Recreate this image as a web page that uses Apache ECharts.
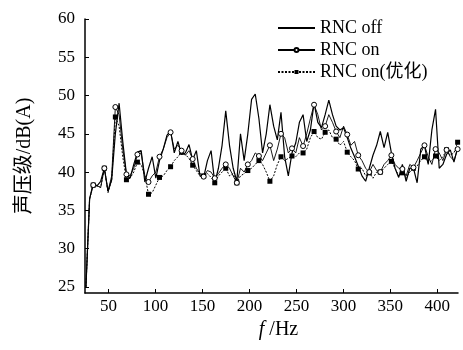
<!DOCTYPE html>
<html>
<head>
<meta charset="utf-8">
<script src="https://cdn.jsdelivr.net/npm/echarts@6/dist/echarts.min.js"></script>
<style>
html, body { margin: 0; padding: 0; background: #fff; }
#chart { width: 463px; height: 350px; }
</style>
</head>
<body>
<div id="chart"></div>
<script>
// frequency grid (Hz)
var freq = [
  26.0, 29.9, 33.8, 37.8, 41.7, 45.6, 49.5, 53.4, 57.3, 61.3,
  65.2, 69.1, 73.0, 76.9, 80.8, 84.8, 88.7, 92.6, 96.5, 100.4,
  104.3, 108.3, 112.2, 116.1, 120.0, 123.9, 127.8, 131.8, 135.7, 139.6,
  143.5, 147.4, 151.3, 155.3, 159.2, 163.1, 167.0, 170.9, 174.8, 178.8,
  182.7, 186.6, 190.5, 194.4, 198.3, 202.3, 206.2, 210.1, 214.0, 217.9,
  221.8, 225.8, 229.7, 233.6, 237.5, 241.4, 245.3, 249.3, 253.2, 257.1,
  261.0, 264.9, 268.8, 272.8, 276.7, 280.6, 284.5, 288.4, 292.3, 296.3,
  300.2, 304.1, 308.0, 311.9, 315.8, 319.8, 323.7, 327.6, 331.5, 335.4,
  339.3, 343.3, 347.2, 351.1, 355.0, 358.9, 362.8, 366.8, 370.7, 374.6,
  378.5, 382.4, 386.3, 390.3, 394.2, 398.1, 402.0, 405.9, 409.8, 413.8,
  417.7, 421.6
];

var rncOff = [
  25, 36.5, 38.6, 38.2, 38.8, 40.5, 37.5, 39, 45, 49,
  44, 39.7, 39.2, 41, 42.6, 42.8, 38.7, 40.5, 42, 39.2,
  41.5, 43, 44.8, 45.4, 42.5, 44, 42.3, 42.5, 43.6, 41.6,
  42.8, 39.5, 39.3, 41.5, 42.8, 38.6, 40.5, 43.5, 48, 43.5,
  40.5, 38.8, 45, 41.5, 45, 49.5, 50.2, 47, 42.5, 45,
  48.8, 46, 44.2, 47.8, 42, 39.5, 42.5, 43.8, 46.5, 47.5,
  44, 45.5, 49, 46.5, 45.8, 47.5, 49.4, 47.5, 46, 45.5,
  45.8, 44.5, 43.1, 42, 40.8, 39.5, 38.8, 40.5, 42.2, 43.5,
  45.3, 43.2, 45.2, 42.5, 40.5, 39.3, 41, 38.8, 40.5, 40.5,
  38.6, 43, 43.5, 41, 45.5, 48.2, 40.5, 41, 42.3, 42.9,
  41.3, 43.2
];

var rncOn = [
  25, 36.5, 38.3, 38.2, 38, 40.5, 37.5, 39.5, 48.5, 47.5,
  43, 39.7, 39.5, 40.5, 42.3, 42.5, 39.5, 38.7, 39.5, 40,
  42, 43, 44.5, 45.2, 43, 43.5, 42.8, 42.2, 42.8, 41.7,
  40.5, 39.8, 39.4, 40.2, 40, 39.2, 39.8, 40.5, 41, 40.5,
  39.5, 38.6, 40.5, 40, 41, 41.5, 42.5, 42.1, 41.5, 42.5,
  43.5, 41.5, 43, 45, 44.5, 42.5, 43.1, 42.5, 44.5, 43.4,
  45, 47, 48.8, 47.5, 45.5, 46, 47.5, 46.5, 45.3, 44.5,
  46, 44.9, 43.5, 44, 42.2, 41.5, 40.5, 40, 41, 40.2,
  40, 41, 41.5, 42.2, 41, 40.5, 40.4, 39.5, 41, 40.6,
  41.5, 42.5, 43.5, 42, 41, 43, 42.5, 41.5, 42.9, 42,
  41.5, 43
];

var rncOpt = [
  25, 36.5, 38.3, 38.2, 38, 40.5, 37.3, 39, 47.2, 46,
  42, 39, 39.2, 40, 41.3, 41, 39.5, 37.1, 37.3, 38.3,
  39.3, 39.5, 40.2, 40.7, 41.5, 42, 42.6, 42.3, 41.8, 40.9,
  40.2, 39.5, 39.5, 39.8, 39.3, 38.6, 39.5, 40, 40.5, 39.5,
  39.8, 38.6, 39.5, 39.8, 40.2, 40.5, 41, 41.5, 41, 40,
  38.8, 39.5, 41, 42, 41.5, 41.8, 42.1, 42, 42.5, 42.5,
  43, 44.5, 45.3, 44.5, 44.3, 45.2, 45.5, 44.5, 44.3, 43.5,
  44, 42.6, 42, 41.5, 40.4, 40.5, 39.5, 39.9, 39.2, 40,
  40, 40.5, 41, 41.4, 40.5, 39.5, 39.9, 39.3, 40, 40.5,
  40.8, 41.5, 42, 41.2, 41.5, 42.1, 41.5, 42, 42.9, 42.2,
  42.5, 43.9
];

var xTicks = [50, 100, 150, 200, 250, 300, 350, 400];
var yTicks = [25, 30, 35, 40, 45, 50, 55, 60];
var names = ['RNC off', 'RNC on', 'RNC on(优化)'];

var FONT = "'Liberation Serif', 'Times New Roman', 'Noto Sans CJK SC', serif";

// markers sit on every third sample
function pairs(vals, marked) {
  return vals.map(function (v, i) {
    var item = { value: [freq[i], v] };
    if (!marked || (i - 2) % 3 !== 0) item.symbol = 'none';
    return item;
  });
}

var chart = echarts.init(document.getElementById('chart'));

chart.setOption({
  animation: false,
  backgroundColor: '#fff',
  grid: { left: 85, right: 5, top: 19, bottom: 57 },
  legend: {
    orient: 'vertical',
    left: 272,
    top: 14,
    itemWidth: 37,
    itemHeight: 5,
    itemGap: 4,
    data: [
      { name: names[0], itemStyle: { opacity: 0 } },
      { name: names[1] },
      { name: names[2] }
    ],
    textStyle: { fontFamily: FONT, fontSize: 18, color: '#000' }
  },
  xAxis: {
    type: 'value',
    min: 25,
    max: 422,
    name: '{i|f} /Hz',
    nameLocation: 'middle',
    nameGap: 25,
    nameTextStyle: {
      fontFamily: FONT, fontSize: 20, color: '#000', padding: [0, 0, 0, 14],
      rich: { i: { fontFamily: FONT, fontSize: 20, fontStyle: 'italic', color: '#000' } }
    },
    axisLine: { lineStyle: { color: '#000', width: 1.5 } },
    axisTick: { inside: true, length: 4, customValues: xTicks, lineStyle: { color: '#000' } },
    axisLabel: { customValues: xTicks, fontFamily: FONT, fontSize: 17, color: '#000', margin: 5 },
    splitLine: { show: false }
  },
  yAxis: {
    type: 'value',
    min: 24.2,
    max: 60,
    name: '声压级/dB(A)',
    nameLocation: 'middle',
    nameRotate: 90,
    nameGap: 50,
    nameTextStyle: { fontFamily: FONT, fontSize: 20, color: '#000' },
    axisLine: { show: true, lineStyle: { color: '#000', width: 1.5 } },
    axisTick: { show: true, inside: true, length: 4, customValues: yTicks, lineStyle: { color: '#000' } },
    axisLabel: { customValues: yTicks, fontFamily: FONT, fontSize: 17, color: '#000', margin: 10 },
    splitLine: { show: false }
  },
  series: [
    {
      name: names[0],
      type: 'line',
      data: pairs(rncOff, false),
      symbol: 'none',
      lineStyle: { color: '#000', width: 1.2 },
      itemStyle: { color: '#000' },
      z: 2
    },
    {
      name: names[2],
      type: 'line',
      data: pairs(rncOpt, true),
      symbol: 'rect',
      symbolSize: 5,
      showAllSymbol: true,
      lineStyle: { color: '#000', width: 1, type: [2, 1.5] },
      itemStyle: { color: '#000' },
      z: 3
    },
    {
      name: names[1],
      type: 'line',
      data: pairs(rncOn, true),
      symbol: 'circle',
      symbolSize: 5,
      showAllSymbol: true,
      lineStyle: { color: '#000', width: 0.9 },
      itemStyle: { color: '#fff', borderColor: '#000', borderWidth: 1 },
      z: 4
    }
  ]
});
</script>
</body>
</html>
